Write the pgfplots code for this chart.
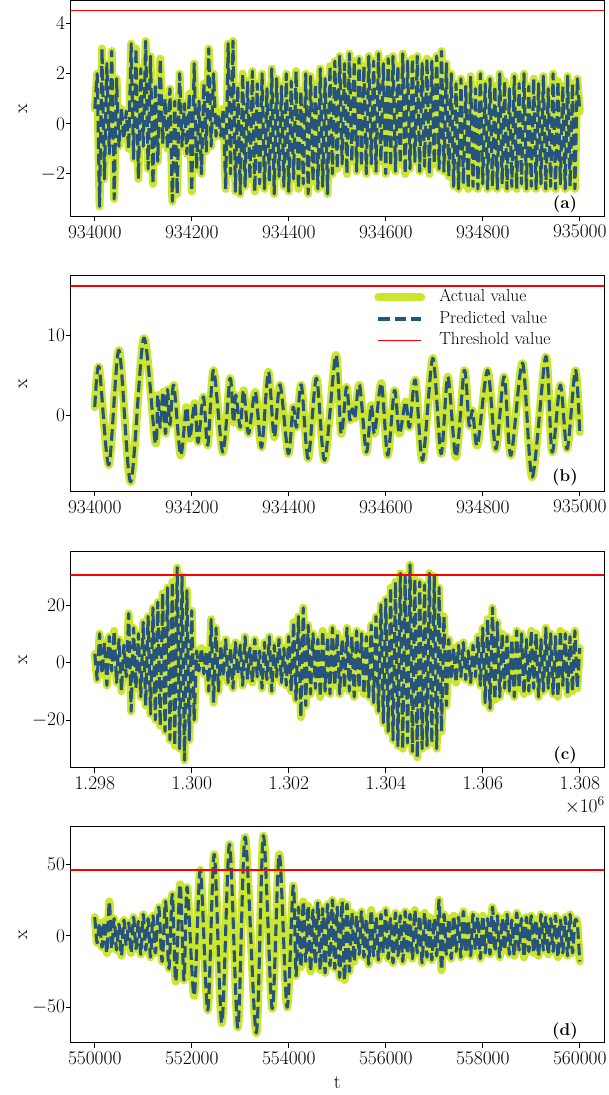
\RequirePackage{fix-cm}
\documentclass[border=0pt]{standalone}
\usepackage{pgfplots}
\usepackage{pgfplotstable}
\pgfplotsset{compat=1.18}
\definecolor{ygreen}{RGB}{204,230,46}
\definecolor{pblue}{RGB}{38,84,124}
\newcommand{\tfont}{\fontsize{19.4}{23}\selectfont}
\newcommand{\lfont}{\fontsize{17.4}{20}\selectfont}

\pgfplotstableread[row sep=\\]{t v\\
934000 0.6\\ 934005 2.0\\ 934010 -3.3\\ 934015 3.0\\ 934020 -2.2\\ 934025 2.4\\ 934030 -1.2\\ 934035 2.9\\ 934040 -3.0\\ 934045 1.8\\
934050 -0.9\\ 934055 0.6\\ 934060 -0.6\\ 934065 0.5\\ 934070 -1.0\\ 934075 3.2\\ 934080 -1.4\\ 934085 3.0\\ 934090 -2.2\\ 934095 2.2\\
934100 -0.9\\ 934105 3.3\\ 934110 -1.8\\ 934115 2.7\\ 934120 -2.4\\ 934125 1.6\\ 934130 -1.5\\ 934135 2.6\\ 934140 -0.8\\ 934145 1.0\\
934150 -1.0\\ 934155 1.4\\ 934160 -3.1\\ 934165 0.9\\ 934170 -2.8\\ 934175 2.0\\ 934180 -0.9\\ 934185 0.8\\ 934190 -1.2\\ 934195 1.2\\
934200 -2.7\\ 934205 2.4\\ 934210 -1.8\\ 934215 0.9\\ 934220 -2.0\\ 934225 1.6\\ 934230 -1.1\\ 934235 3.0\\ 934240 -0.9\\ 934245 2.0\\
934250 -0.5\\ 934255 0.4\\ 934260 -0.5\\ 934265 0.6\\ 934270 -2.6\\ 934275 3.2\\ 934280 -2.0\\ 934285 3.3\\ 934290 -2.7\\ 934295 1.5\\
934300 -2.8\\ 934305 2.0\\ 934310 -2.5\\ 934315 1.7\\ 934320 -2.2\\ 934325 2.1\\ 934330 -2.7\\ 934335 1.6\\ 934340 -2.4\\ 934345 2.0\\
934350 -2.6\\ 934355 1.4\\ 934360 -2.3\\ 934365 2.2\\ 934370 -2.8\\ 934375 1.8\\ 934380 -2.1\\ 934385 1.5\\ 934390 -2.5\\ 934395 2.0\\
934400 -2.7\\ 934405 1.7\\ 934410 -2.2\\ 934415 2.1\\ 934420 -2.6\\ 934425 1.3\\ 934430 -2.4\\ 934435 2.0\\ 934440 -2.8\\ 934445 1.9\\
934450 -2.3\\ 934455 1.6\\ 934460 -2.6\\ 934465 2.2\\ 934470 -2.5\\ 934475 1.8\\ 934480 -2.8\\ 934485 2.3\\ 934490 -2.0\\ 934495 2.5\\
934500 -1.8\\ 934505 2.7\\ 934510 -1.6\\ 934515 2.4\\ 934520 -2.0\\ 934525 2.8\\ 934530 -1.5\\ 934535 2.5\\ 934540 -1.9\\ 934545 2.6\\
934550 -1.7\\ 934555 2.3\\ 934560 -2.0\\ 934565 2.7\\ 934570 -1.6\\ 934575 2.5\\ 934580 -1.9\\ 934585 2.8\\ 934590 -1.5\\ 934595 2.4\\
934600 -2.0\\ 934605 2.6\\ 934610 -1.7\\ 934615 2.7\\ 934620 -1.9\\ 934625 2.3\\ 934630 -1.6\\ 934635 2.8\\ 934640 -2.0\\ 934645 2.5\\
934650 -1.8\\ 934655 2.6\\ 934660 -1.5\\ 934665 2.7\\ 934670 -1.9\\ 934675 2.4\\ 934680 -1.7\\ 934685 2.6\\ 934690 -2.0\\ 934695 2.5\\
934700 -1.6\\ 934705 2.7\\ 934710 -1.8\\ 934715 2.9\\ 934720 -1.9\\ 934725 2.4\\ 934730 -2.1\\ 934735 2.0\\ 934740 -2.5\\ 934745 1.6\\
934750 -2.6\\ 934755 1.8\\ 934760 -2.4\\ 934765 1.5\\ 934770 -2.6\\ 934775 1.9\\ 934780 -2.5\\ 934785 1.4\\ 934790 -2.6\\ 934795 2.0\\
934800 -2.4\\ 934805 1.6\\ 934810 -2.6\\ 934815 1.8\\ 934820 -2.5\\ 934825 1.5\\ 934830 -2.6\\ 934835 2.0\\ 934840 -2.4\\ 934845 1.7\\
934850 -2.6\\ 934855 1.4\\ 934860 -2.5\\ 934865 1.9\\ 934870 -2.6\\ 934875 1.6\\ 934880 -2.4\\ 934885 2.0\\ 934890 -2.6\\ 934895 1.5\\
934900 -2.5\\ 934905 1.8\\ 934910 -2.6\\ 934915 1.6\\ 934920 -2.4\\ 934925 1.9\\ 934930 -2.6\\ 934935 1.4\\ 934940 -2.5\\ 934945 2.0\\
934950 -2.6\\ 934955 1.7\\ 934960 -2.4\\ 934965 1.5\\ 934970 -2.6\\ 934975 1.9\\ 934980 -2.5\\ 934985 1.6\\ 934990 -2.6\\ 934995 1.8\\
935000 0.5\\
}\dataA

\pgfplotstableread[row sep=\\]{t v\\
934000 1.0\\ 934009 6.0\\ 934029 -6.2\\ 934050 8.1\\ 934074 -8.3\\ 934101 9.6\\ 934125 -3.5\\ 934130 2.5\\ 934135 -1.5\\ 934141 2.9\\
934146 -2.3\\ 934150 3.2\\ 934155 -1.2\\ 934163 3.75\\ 934177 -5.0\\ 934189 1.0\\ 934196 -2.9\\ 934206 1.5\\ 934213 -3.4\\ 934224 2.3\\
934233 -3.75\\ 934245 5.6\\ 934264 -4.6\\ 934279 4.6\\ 934286 -0.9\\ 934291 2.5\\ 934300 -1.5\\ 934307 3.1\\ 934317 -2.3\\ 934331 2.9\\
934344 -4.0\\ 934358 5.4\\ 934370 -2.7\\ 934382 3.8\\ 934399 -4.8\\ 934409 1.0\\ 934416 -1.5\\ 934426 3.8\\ 934440 -5.4\\ 934457 4.6\\
934474 -5.6\\ 934497 7.5\\ 934508 -2.3\\ 934519 3.5\\ 934526 -0.6\\ 934531 0.8\\ 934536 -0.4\\ 934546 3.75\\ 934560 -4.6\\ 934570 1.25\\
934577 -2.3\\ 934591 4.0\\ 934604 -5.0\\ 934618 3.1\\ 934628 -2.3\\ 934641 1.7\\ 934649 -1.5\\ 934661 4.4\\ 934676 -5.6\\ 934697 7.1\\
934714 -4.8\\ 934728 4.8\\ 934745 -5.2\\ 934762 5.6\\ 934772 -1.25\\ 934779 0.6\\ 934789 -3.75\\ 934810 5.6\\ 934827 -4.2\\ 934844 4.8\\
934858 -5.0\\ 934882 6.5\\ 934902 -7.7\\ 934930 7.3\\ 934943 -4.6\\ 934960 3.75\\ 934974 -4.2\\ 934991 5.6\\ 935000 -2.1\\
}\dataB

\pgfplotstableread[row sep=\\]{t v\\
1298000 3\\ 1298050 -6\\ 1298100 10\\ 1298150 -4\\ 1298200 7\\ 1298250 -8\\ 1298300 9\\ 1298350 -3\\ 1298400 11\\ 1298450 -7\\
1298500 8\\ 1298550 -10\\ 1298600 6\\ 1298650 -5\\ 1298700 17\\ 1298750 -17\\ 1298800 12\\ 1298850 -9\\ 1298900 10\\ 1298950 -12\\
1299000 14\\ 1299050 -15\\ 1299100 16\\ 1299150 -18\\ 1299200 19\\ 1299250 -20\\ 1299300 21\\ 1299350 -22\\ 1299400 24\\ 1299450 -24\\
1299500 26\\ 1299550 -27\\ 1299600 28\\ 1299650 -29\\ 1299700 33\\ 1299750 -30\\ 1299800 30\\ 1299850 -34\\ 1299900 25\\ 1299950 -27\\
1300000 18\\ 1300050 -20\\ 1300100 4\\ 1300150 -3\\ 1300200 5\\ 1300250 -4\\ 1300300 4\\ 1300350 -10\\ 1300400 15\\ 1300450 -14\\
1300500 12\\ 1300550 -10\\ 1300600 6\\ 1300650 -5\\ 1300700 8\\ 1300750 -7\\ 1300800 5\\ 1300850 -9\\ 1300900 7\\ 1300950 -4\\
1301000 6\\ 1301050 -8\\ 1301100 9\\ 1301150 -6\\ 1301200 5\\ 1301250 -7\\ 1301300 8\\ 1301350 -5\\ 1301400 4\\ 1301450 -9\\
1301500 7\\ 1301550 -6\\ 1301600 9\\ 1301650 -10\\ 1301700 6\\ 1301750 -5\\ 1301800 8\\ 1301850 -7\\ 1301900 5\\ 1301950 -8\\
1302000 9\\ 1302050 -10\\ 1302100 14\\ 1302150 -13\\ 1302200 16\\ 1302250 -19\\ 1302300 19\\ 1302350 -15\\ 1302400 13\\ 1302450 -11\\
1302500 10\\ 1302550 -9\\ 1302600 8\\ 1302650 -12\\ 1302700 11\\ 1302750 -10\\ 1302800 9\\ 1302850 -11\\ 1302900 12\\ 1302950 -8\\
1303000 10\\ 1303050 -11\\ 1303100 8\\ 1303150 -9\\ 1303200 12\\ 1303250 -10\\ 1303300 9\\ 1303350 -12\\ 1303400 11\\ 1303450 -9\\
1303500 10\\ 1303550 -11\\ 1303600 9\\ 1303650 -12\\ 1303700 13\\ 1303750 -14\\ 1303800 16\\ 1303850 -17\\ 1303900 20\\ 1303950 -21\\
1304000 22\\ 1304050 -24\\ 1304100 26\\ 1304150 -27\\ 1304200 28\\ 1304250 -29\\ 1304300 31\\ 1304350 -30\\ 1304400 30\\ 1304450 -28\\
1304500 34\\ 1304550 -31\\ 1304600 29\\ 1304650 -33\\ 1304700 28\\ 1304750 -30\\ 1304800 27\\ 1304850 -29\\ 1304900 31\\ 1304950 -28\\
1305000 30\\ 1305050 -30\\ 1305100 26\\ 1305150 -24\\ 1305200 16\\ 1305250 -15\\ 1305300 8\\ 1305350 -6\\ 1305400 5\\ 1305450 -7\\
1305500 6\\ 1305550 -5\\ 1305600 7\\ 1305650 -6\\ 1305700 4\\ 1305750 -7\\ 1305800 6\\ 1305850 -5\\ 1305900 9\\ 1305950 -8\\
1306000 12\\ 1306050 -14\\ 1306100 15\\ 1306150 -16\\ 1306200 19\\ 1306250 -13\\ 1306300 14\\ 1306350 -12\\ 1306400 10\\ 1306450 -9\\
1306500 9\\ 1306550 -10\\ 1306600 8\\ 1306650 -12\\ 1306700 11\\ 1306750 -9\\ 1306800 10\\ 1306850 -11\\ 1306900 8\\ 1306950 -10\\
1307000 11\\ 1307050 -9\\ 1307100 10\\ 1307150 -12\\ 1307200 8\\ 1307250 -10\\ 1307300 12\\ 1307350 -9\\ 1307400 10\\ 1307450 -11\\
1307500 9\\ 1307550 -12\\ 1307600 11\\ 1307650 -8\\ 1307700 10\\ 1307750 -11\\ 1307800 9\\ 1307850 -10\\ 1307900 11\\ 1307950 -9\\
1308000 5\\
}\dataC

\pgfplotstableread[row sep=\\]{t v\\
550000 13\\ 550050 -5\\ 550100 9\\ 550150 -8\\ 550200 10\\ 550250 -12\\ 550300 24\\ 550350 -9\\ 550400 12\\ 550450 -10\\
550500 8\\ 550550 -14\\ 550600 11\\ 550650 -7\\ 550700 9\\ 550750 -12\\ 550800 13\\ 550850 -9\\ 550900 10\\ 550950 -13\\
551000 15\\ 551050 -10\\ 551100 12\\ 551150 -15\\ 551200 14\\ 551250 -12\\ 551320 20\\ 551390 -18\\ 551460 24\\ 551530 -23\\
551600 29\\ 551670 -32\\ 551760 36\\ 551840 -31\\ 551905 34\\ 552050 -42\\ 552177 46\\ 552330 -52\\ 552464 57\\ 552620 -61\\
552779 64\\ 552950 -64\\ 553101 69\\ 553330 -68\\ 553477 70\\ 553660 -51\\ 553805 57\\ 553965 -50\\ 554093 35\\ 554150 -28\\
554200 20\\ 554250 -22\\ 554300 24\\ 554350 -18\\ 554400 21\\ 554450 -25\\ 554500 18\\ 554550 -20\\ 554600 23\\ 554650 -24\\
554700 19\\ 554750 -26\\ 554800 22\\ 554850 -21\\ 554900 25\\ 554950 -23\\ 555000 20\\ 555050 -29\\ 555100 24\\ 555150 -31\\
555200 22\\ 555250 -25\\ 555300 16\\ 555350 -18\\ 555400 14\\ 555450 -13\\ 555500 17\\ 555550 -15\\ 555600 12\\ 555650 -20\\
555700 18\\ 555750 -14\\ 555800 13\\ 555850 -17\\ 555900 15\\ 555950 -12\\ 556000 18\\ 556050 -16\\ 556100 12\\ 556150 -19\\
556200 16\\ 556250 -14\\ 556300 14\\ 556350 -18\\ 556400 17\\ 556450 -13\\ 556500 15\\ 556550 -16\\ 556600 18\\ 556650 -12\\
556700 14\\ 556750 -19\\ 556800 16\\ 556850 -15\\ 556900 13\\ 556950 -17\\ 557000 12\\ 557050 -14\\ 557100 25\\ 557150 -24\\
557200 15\\ 557250 -13\\ 557300 12\\ 557350 -16\\ 557400 14\\ 557450 -11\\ 557500 13\\ 557550 -15\\ 557600 17\\ 557650 -12\\
557700 11\\ 557750 -14\\ 557800 15\\ 557850 -10\\ 557900 13\\ 557950 -16\\ 558000 14\\ 558050 -12\\ 558100 12\\ 558150 -13\\
558200 20\\ 558250 -11\\ 558300 14\\ 558350 -15\\ 558400 12\\ 558450 -10\\ 558500 15\\ 558550 -13\\ 558600 11\\ 558650 -14\\
558700 16\\ 558750 -10\\ 558800 12\\ 558850 -15\\ 558900 13\\ 558950 -11\\ 559000 14\\ 559050 -12\\ 559100 11\\ 559150 -14\\
559200 15\\ 559250 -10\\ 559300 13\\ 559350 -13\\ 559400 12\\ 559450 -11\\ 559500 14\\ 559550 -15\\ 559600 11\\ 559650 -12\\
559700 13\\ 559750 -14\\ 559800 15\\ 559850 -12\\ 559900 10\\ 559950 8\\ 560000 -18\\
}\dataD

\pgfplotsset{
  panel/.style={
    scale only axis, width=533.5pt, height=216pt, anchor=north west,
    scaled x ticks=false, scaled y ticks=false,
    axis line style={line width=0.8pt},
    every tick/.style={black, line width=0.8pt},
    major tick length=5pt, tick align=outside, tick pos=left,
    ticklabel style={font=\tfont},
    yticklabel style={xshift=3pt},
    ylabel={x},
    every axis y label/.style={at={(axis description cs:-0.089,0.5)}, rotate=90, anchor=center, font=\tfont},
  },
  actual/.style={color=ygreen, line width=8pt, line join=round, line cap=round},
  pred/.style={color=pblue, line width=3.1pt, dash pattern=on 11.5pt off 5pt, line join=round},
  thr/.style={draw=red, color=red, line width=1.2pt},
}

\begin{document}
\begin{tikzpicture}
\useasboundingbox (0,0) rectangle (609pt,1095pt);

% (a)
\begin{axis}[panel, at={(70.5pt,1094.5pt)},
  xmin=933950, xmax=935050, ymin=-3.7, ymax=4.92,
  xtick={934000,934200,934400,934600,934800,935000},
  xticklabels={934000,934200,934400,934600,934800,935000},
  ytick={-2,0,2,4}]
\addplot[actual] table {\dataA};
\addplot[pred] table {\dataA};
\addplot[thr] coordinates {(933950,4.52) (935050,4.52)};
\node[font=\bfseries\fontsize{17}{20}\selectfont, xshift=-39pt, yshift=12pt] at (rel axis cs:1,0) {(a)};
\end{axis}

% (b)
\begin{axis}[panel, at={(70.5pt,819.5pt)},
  xmin=933950, xmax=935050, ymin=-9.5, ymax=17.4,
  xtick={934000,934200,934400,934600,934800,935000},
  xticklabels={934000,934200,934400,934600,934800,935000},
  ytick={0,10},
  legend cell align=left,
  legend image code/.code={\draw[#1] (0pt,0pt) -- (43pt,0pt); \path (54pt,0pt);},
  legend style={at={(0.569,0.949)}, anchor=north west, draw=none, fill=none,
    font=\lfont, inner sep=0pt, row sep=0pt,
    nodes={inner sep=3pt, text height=12pt, text depth=3.5pt}}]
\addplot[actual, smooth] table {\dataB};
\addlegendentry{Actual value}
\addplot[pred, smooth] table {\dataB};
\addlegendentry{Predicted value}
\addplot[thr] coordinates {(933950,16.1) (935050,16.1)};
\addlegendentry{Threshold value}
\node[font=\bfseries\fontsize{17}{20}\selectfont, xshift=-39pt, yshift=14pt] at (rel axis cs:1,0) {(b)};
\end{axis}

% (c)
\begin{axis}[panel, name=c, at={(70.5pt,543.3pt)},
  xmin=1297500, xmax=1308500, ymin=-36.6, ymax=38.5,
  xtick={1298000,1300000,1302000,1304000,1306000,1308000},
  xticklabels={1.298,1.300,1.302,1.304,1.306,1.308},
  ytick={-20,0,20}]
\addplot[actual] table {\dataC};
\addplot[pred] table {\dataC};
\addplot[thr] coordinates {(1297500,30.4) (1308500,30.4)};
\node[font=\bfseries\fontsize{17}{20}\selectfont, xshift=-39pt, yshift=12pt] at (rel axis cs:1,0) {(c)};
\end{axis}
\node[anchor=north east, inner sep=0pt, font=\tfont, xshift=1pt, yshift=-29pt] at (c.south east) {$\times10^{6}$};

% (d)
\begin{axis}[panel, at={(70.5pt,268.3pt)},
  xmin=549500, xmax=560500, ymin=-74.8, ymax=76.3,
  xtick={550000,552000,554000,556000,558000,560000},
  xticklabels={550000,552000,554000,556000,558000,560000},
  ytick={-50,0,50},
  xlabel={t},
  every axis x label/.style={at={(axis description cs:0.5,-0.184)}, anchor=center, font=\tfont}]
\addplot[actual, smooth] table {\dataD};
\addplot[pred, smooth] table {\dataD};
\addplot[thr] coordinates {(549500,46.0) (560500,46.0)};
\node[font=\bfseries\fontsize{17}{20}\selectfont, xshift=-39pt, yshift=11pt] at (rel axis cs:1,0) {(d)};
\end{axis}
\end{tikzpicture}
\end{document}
